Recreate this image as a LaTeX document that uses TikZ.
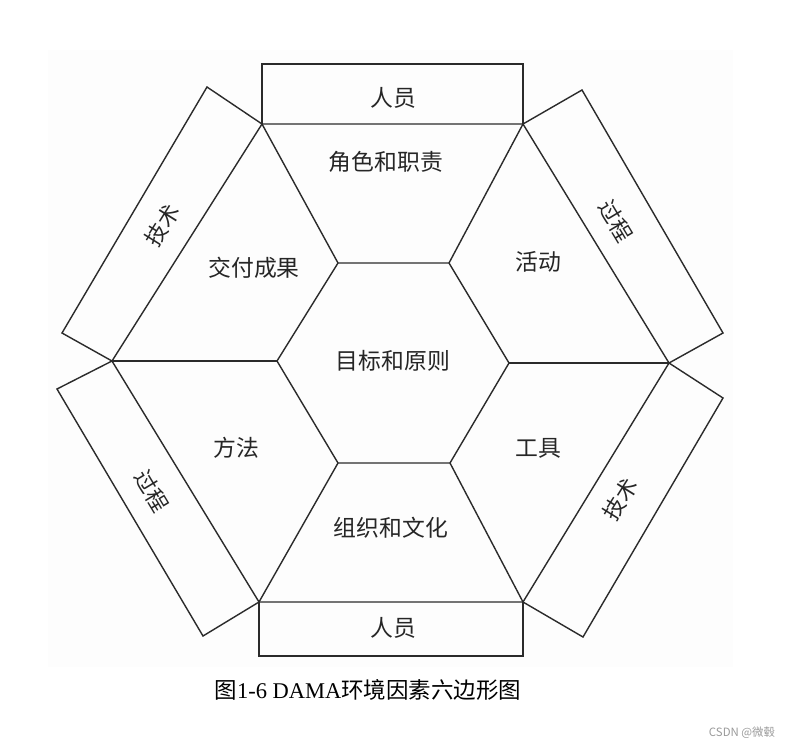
\documentclass[tikz,border=0pt]{standalone}
\usepackage{fontspec}
\setmainfont{Liberation Serif}
\newfontfamily\cjk{Noto Sans CJK SC}
\usepackage{tikz}
\usetikzlibrary{positioning}
\definecolor{HexLine}{HTML}{2B2B2B}
\definecolor{HexBack}{HTML}{FDFDFD}
\definecolor{MarkGray}{HTML}{9A9A9A}

\begin{document}
\begin{tikzpicture}[x=0.02cm, y=-0.02cm,
  edge/.style={draw=HexLine, line width=0.8pt, line join=miter},
  hexlabel/.style={font=\cjk\fontsize{13}{15}\selectfont, text=black!85, inner sep=0pt},
  sidelabel/.style={hexlabel, font=\cjk\fontsize{12.5}{15}\selectfont}
]
\useasboundingbox (0,0) rectangle (791,748);
\fill[HexBack] (48,50) rectangle (733,667);

% outer and inner hexagon
\coordinate (o1) at (262,124);
\coordinate (o2) at (523,124);
\coordinate (o3) at (669,363);
\coordinate (o4) at (523,602);
\coordinate (o5) at (259,602);
\coordinate (o6) at (112,361);
\coordinate (i1) at (338,263);
\coordinate (i2) at (449,263);
\coordinate (i3) at (509,363);
\coordinate (i4) at (450,463);
\coordinate (i5) at (338,463);
\coordinate (i6) at (277,361);

% corners of the side boxes
\coordinate (top1) at (262,64);
\coordinate (top2) at (523,64);
\coordinate (ur1) at (582,90);
\coordinate (ur2) at (723,333);
\coordinate (lr1) at (723,398);
\coordinate (lr2) at (583,637);
\coordinate (bot1) at (523,656);
\coordinate (bot2) at (259,656);
\coordinate (ll1) at (203,636);
\coordinate (ll2) at (57,389);
\coordinate (ul1) at (62,333);
\coordinate (ul2) at (207,87);

\draw[edge] (o1) -- (o2) -- (o3) -- (o4) -- (o5) -- (o6) -- cycle;
\draw[edge] (i1) -- (i2) -- (i3) -- (i4) -- (i5) -- (i6) -- cycle;
\foreach \k in {1,...,6}
  \draw[edge] (o\k) -- (i\k);

\draw[edge] (o1) -- (top1) -- (top2) -- (o2);
\draw[edge] (o2) -- (ur1) -- (ur2) -- (o3);
\draw[edge] (o3) -- (lr1) -- (lr2) -- (o4);
\draw[edge] (o4) -- (bot1) -- (bot2) -- (o5);
\draw[edge] (o5) -- (ll1) -- (ll2) -- (o6);
\draw[edge] (o6) -- (ul1) -- (ul2) -- (o1);

% sectors
\node[hexlabel] (goals) at (393,361) {目标和原则};
\node[hexlabel] (roles) at (386,162) {角色和职责};
\node[hexlabel] (activities) at (538,262) {活动};
\node[hexlabel] (tools) at (538,448) {工具};
\node[hexlabel] (culture) at (391,528) {组织和文化};
\node[hexlabel] (methods) at (236,448) {方法};
\node[hexlabel] (deliverables) at (254,268) {交付成果};

% side boxes
\node[hexlabel] (peopletop) at (393,98) {人员};
\node[hexlabel] (peoplebot) at (393,628) {人员};
\node[sidelabel, rotate=-59] (processur) at (616,221) {过程};
\node[sidelabel, rotate=58] (techlr) at (620,499) {技术};
\node[sidelabel, rotate=-59] (processll) at (152,491) {过程};
\node[sidelabel, rotate=58] (techul) at (162,225) {技术};

\node[font=\fontsize{12.8}{15}\selectfont, inner sep=0pt] (caption) at (368,690)
  {{\cjk 图}1-6 DAMA{\cjk 环境因素六边形图}};
\node[font=\cjk\fontsize{6.5}{8}\selectfont, text=MarkGray, inner sep=0pt] (mark) at (742,733)
  {CSDN @微毂};
\end{tikzpicture}
\end{document}
